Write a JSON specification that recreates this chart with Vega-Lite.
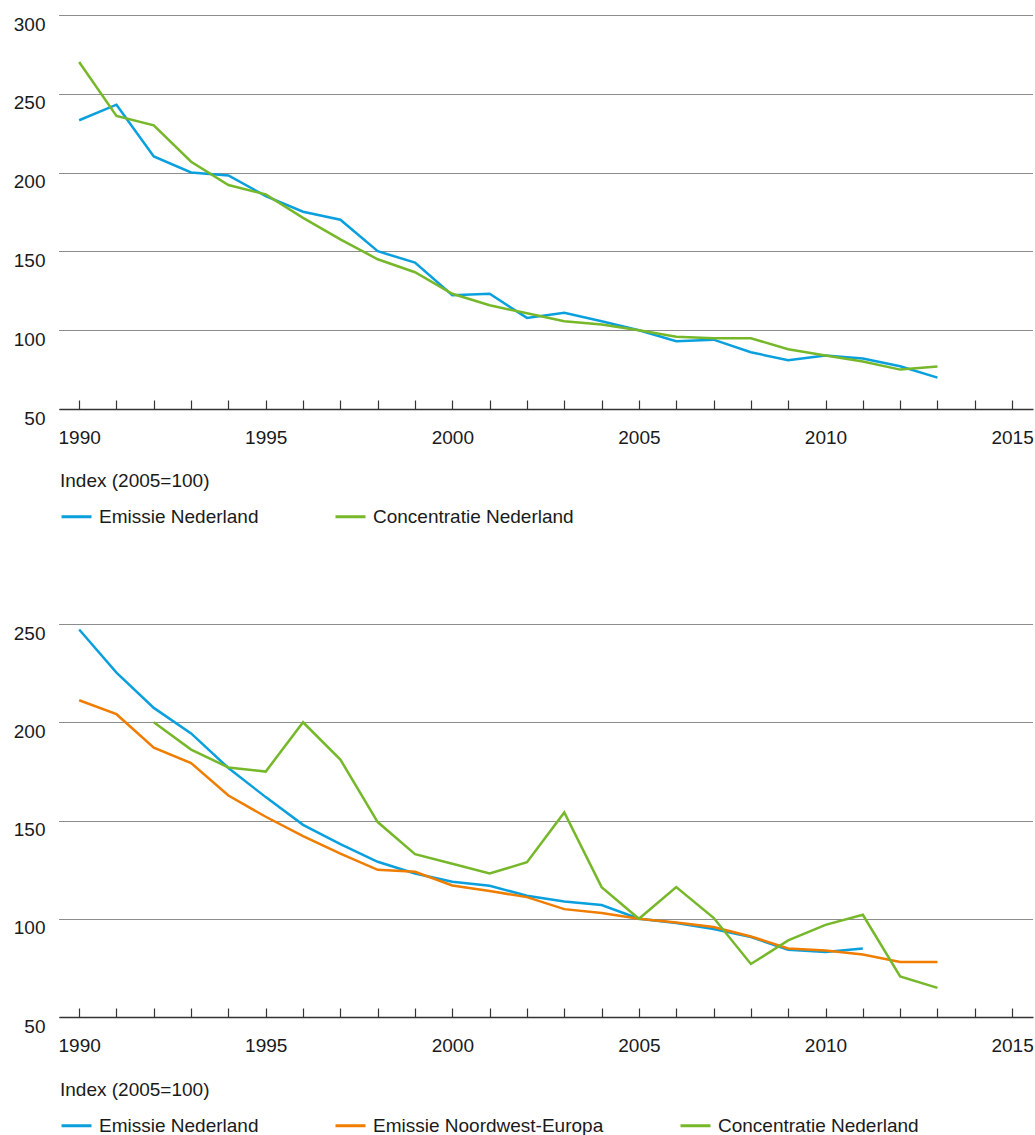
{
  "$schema": "https://vega.github.io/schema/vega-lite/v6.json",
  "padding": {"left": 13, "top": 15, "right": 2, "bottom": 0},
  "bounds": "flush",
  "spacing": 215,
  "background": "white",
  "config": {
    "font": "Liberation Sans",
    "view": {"stroke": null},
    "axis": {"labelFontSize": 19, "labelColor": "#1a1a1a", "labelFont": "Liberation Sans", "title": null},
    "legend": {
      "orient": "none", "legendX": 1, "legendY": 457,
      "direction": "horizontal",
      "titleFontSize": 19, "titleFontWeight": "normal", "titleColor": "#1a1a1a", "titleFont": "Liberation Sans",
      "titlePadding": 9, "titleLimit": 500,
      "labelFontSize": 19, "labelColor": "#1a1a1a", "labelFont": "Liberation Sans", "labelLimit": 500,
      "labelOffset": 6,
      "symbolType": "stroke", "symbolSize": 900, "symbolStrokeWidth": 3,
      "columnPadding": 70
    }
  },
  "resolve": {"scale": {"color": "independent"}, "legend": {"color": "independent"}},
  "vconcat": [
    {
      "width": 974,
      "height": 394,
      "data": {"values": [
        {"jaar": 1990, "reeks": "Emissie Nederland", "index": 233.2},
        {"jaar": 1991, "reeks": "Emissie Nederland", "index": 243.1},
        {"jaar": 1992, "reeks": "Emissie Nederland", "index": 210.3},
        {"jaar": 1993, "reeks": "Emissie Nederland", "index": 200.1},
        {"jaar": 1994, "reeks": "Emissie Nederland", "index": 198.2},
        {"jaar": 1995, "reeks": "Emissie Nederland", "index": 185.1},
        {"jaar": 1996, "reeks": "Emissie Nederland", "index": 175.2},
        {"jaar": 1997, "reeks": "Emissie Nederland", "index": 170.1},
        {"jaar": 1998, "reeks": "Emissie Nederland", "index": 150.1},
        {"jaar": 1999, "reeks": "Emissie Nederland", "index": 142.9},
        {"jaar": 2000, "reeks": "Emissie Nederland", "index": 122.2},
        {"jaar": 2001, "reeks": "Emissie Nederland", "index": 123.1},
        {"jaar": 2002, "reeks": "Emissie Nederland", "index": 107.8},
        {"jaar": 2003, "reeks": "Emissie Nederland", "index": 111.0},
        {"jaar": 2004, "reeks": "Emissie Nederland", "index": 105.7},
        {"jaar": 2005, "reeks": "Emissie Nederland", "index": 100.0},
        {"jaar": 2006, "reeks": "Emissie Nederland", "index": 93.0},
        {"jaar": 2007, "reeks": "Emissie Nederland", "index": 94.0},
        {"jaar": 2008, "reeks": "Emissie Nederland", "index": 86.0},
        {"jaar": 2009, "reeks": "Emissie Nederland", "index": 80.9},
        {"jaar": 2010, "reeks": "Emissie Nederland", "index": 83.9},
        {"jaar": 2011, "reeks": "Emissie Nederland", "index": 82.0},
        {"jaar": 2012, "reeks": "Emissie Nederland", "index": 77.1},
        {"jaar": 2013, "reeks": "Emissie Nederland", "index": 69.9},
        {"jaar": 1990, "reeks": "Concentratie Nederland", "index": 270.2},
        {"jaar": 1991, "reeks": "Concentratie Nederland", "index": 235.9},
        {"jaar": 1992, "reeks": "Concentratie Nederland", "index": 230.0},
        {"jaar": 1993, "reeks": "Concentratie Nederland", "index": 206.9},
        {"jaar": 1994, "reeks": "Concentratie Nederland", "index": 192.1},
        {"jaar": 1995, "reeks": "Concentratie Nederland", "index": 186.2},
        {"jaar": 1996, "reeks": "Concentratie Nederland", "index": 171.3},
        {"jaar": 1997, "reeks": "Concentratie Nederland", "index": 157.6},
        {"jaar": 1998, "reeks": "Concentratie Nederland", "index": 145.0},
        {"jaar": 1999, "reeks": "Concentratie Nederland", "index": 136.8},
        {"jaar": 2000, "reeks": "Concentratie Nederland", "index": 123.1},
        {"jaar": 2001, "reeks": "Concentratie Nederland", "index": 115.8},
        {"jaar": 2002, "reeks": "Concentratie Nederland", "index": 110.7},
        {"jaar": 2003, "reeks": "Concentratie Nederland", "index": 105.7},
        {"jaar": 2004, "reeks": "Concentratie Nederland", "index": 103.6},
        {"jaar": 2005, "reeks": "Concentratie Nederland", "index": 100.0},
        {"jaar": 2006, "reeks": "Concentratie Nederland", "index": 95.9},
        {"jaar": 2007, "reeks": "Concentratie Nederland", "index": 94.9},
        {"jaar": 2008, "reeks": "Concentratie Nederland", "index": 94.9},
        {"jaar": 2009, "reeks": "Concentratie Nederland", "index": 87.9},
        {"jaar": 2010, "reeks": "Concentratie Nederland", "index": 83.9},
        {"jaar": 2011, "reeks": "Concentratie Nederland", "index": 80.2},
        {"jaar": 2012, "reeks": "Concentratie Nederland", "index": 75.0},
        {"jaar": 2013, "reeks": "Concentratie Nederland", "index": 76.9}
      ]},
      "mark": {"type": "line", "strokeWidth": 2.5},
      "encoding": {
        "x": {
          "field": "jaar", "type": "quantitative",
          "scale": {"domain": [1989.46, 2015.56], "nice": false, "zero": false},
          "axis": {
            "values": [1990,1991,1992,1993,1994,1995,1996,1997,1998,1999,2000,2001,2002,2003,2004,2005,2006,2007,2008,2009,2010,2011,2012,2013,2014,2015],
            "labelExpr": "datum.value % 5 === 0 ? '' + datum.value : ''",
            "labelFlush": false, "labelOverlap": false,
            "grid": false, "domainColor": "#333333", "domainWidth": 1.5,
            "tickColor": "#333333", "tickWidth": 1.2, "tickSize": -9, "labelPadding": 28
          }
        },
        "y": {
          "field": "index", "type": "quantitative",
          "scale": {"domain": [50, 300], "nice": false, "zero": false},
          "axis": {
            "values": [50, 100, 150, 200, 250, 300],
            "labelBaseline": "top", "labelPadding": 14, "labelFlush": false, "labelOverlap": false,
            "domain": false, "ticks": false,
            "grid": true, "gridDash": [1, 1], "gridColor": "#1a1a1a", "gridWidth": 1
          }
        },
        "color": {
          "field": "reeks", "type": "nominal",
          "scale": {"domain": ["Emissie Nederland", "Concentratie Nederland"], "range": ["#0A9FDD", "#76B82A"]},
          "legend": {"title": "Index (2005=100)", "columns": 2}
        }
      }
    },
    {
      "width": 974,
      "height": 393,
      "data": {"values": [
        {"jaar": 1990, "reeks": "Emissie Nederland", "index": 247.2},
        {"jaar": 1991, "reeks": "Emissie Nederland", "index": 225.3},
        {"jaar": 1992, "reeks": "Emissie Nederland", "index": 207.3},
        {"jaar": 1993, "reeks": "Emissie Nederland", "index": 194.3},
        {"jaar": 1994, "reeks": "Emissie Nederland", "index": 176.7},
        {"jaar": 1995, "reeks": "Emissie Nederland", "index": 161.9},
        {"jaar": 1996, "reeks": "Emissie Nederland", "index": 147.8},
        {"jaar": 1997, "reeks": "Emissie Nederland", "index": 138.0},
        {"jaar": 1998, "reeks": "Emissie Nederland", "index": 129.0},
        {"jaar": 1999, "reeks": "Emissie Nederland", "index": 123.0},
        {"jaar": 2000, "reeks": "Emissie Nederland", "index": 118.8},
        {"jaar": 2001, "reeks": "Emissie Nederland", "index": 116.8},
        {"jaar": 2002, "reeks": "Emissie Nederland", "index": 111.7},
        {"jaar": 2003, "reeks": "Emissie Nederland", "index": 108.8},
        {"jaar": 2004, "reeks": "Emissie Nederland", "index": 107.0},
        {"jaar": 2005, "reeks": "Emissie Nederland", "index": 100.0},
        {"jaar": 2006, "reeks": "Emissie Nederland", "index": 97.8},
        {"jaar": 2007, "reeks": "Emissie Nederland", "index": 94.8},
        {"jaar": 2008, "reeks": "Emissie Nederland", "index": 90.7},
        {"jaar": 2009, "reeks": "Emissie Nederland", "index": 84.2},
        {"jaar": 2010, "reeks": "Emissie Nederland", "index": 83.1},
        {"jaar": 2011, "reeks": "Emissie Nederland", "index": 84.9},
        {"jaar": 1990, "reeks": "Emissie Noordwest-Europa", "index": 211.2},
        {"jaar": 1991, "reeks": "Emissie Noordwest-Europa", "index": 204.1},
        {"jaar": 1992, "reeks": "Emissie Noordwest-Europa", "index": 187.1},
        {"jaar": 1993, "reeks": "Emissie Noordwest-Europa", "index": 179.2},
        {"jaar": 1994, "reeks": "Emissie Noordwest-Europa", "index": 162.7},
        {"jaar": 1995, "reeks": "Emissie Noordwest-Europa", "index": 151.9},
        {"jaar": 1996, "reeks": "Emissie Noordwest-Europa", "index": 142.1},
        {"jaar": 1997, "reeks": "Emissie Noordwest-Europa", "index": 133.1},
        {"jaar": 1998, "reeks": "Emissie Noordwest-Europa", "index": 124.9},
        {"jaar": 1999, "reeks": "Emissie Noordwest-Europa", "index": 123.9},
        {"jaar": 2000, "reeks": "Emissie Noordwest-Europa", "index": 116.9},
        {"jaar": 2001, "reeks": "Emissie Noordwest-Europa", "index": 114.1},
        {"jaar": 2002, "reeks": "Emissie Noordwest-Europa", "index": 111.0},
        {"jaar": 2003, "reeks": "Emissie Noordwest-Europa", "index": 104.9},
        {"jaar": 2004, "reeks": "Emissie Noordwest-Europa", "index": 102.9},
        {"jaar": 2005, "reeks": "Emissie Noordwest-Europa", "index": 100.0},
        {"jaar": 2006, "reeks": "Emissie Noordwest-Europa", "index": 98.1},
        {"jaar": 2007, "reeks": "Emissie Noordwest-Europa", "index": 95.8},
        {"jaar": 2008, "reeks": "Emissie Noordwest-Europa", "index": 91.0},
        {"jaar": 2009, "reeks": "Emissie Noordwest-Europa", "index": 84.9},
        {"jaar": 2010, "reeks": "Emissie Noordwest-Europa", "index": 83.9},
        {"jaar": 2011, "reeks": "Emissie Noordwest-Europa", "index": 81.8},
        {"jaar": 2012, "reeks": "Emissie Noordwest-Europa", "index": 78.0},
        {"jaar": 2013, "reeks": "Emissie Noordwest-Europa", "index": 78.0},
        {"jaar": 1992, "reeks": "Concentratie Nederland", "index": 200.0},
        {"jaar": 1993, "reeks": "Concentratie Nederland", "index": 186.1},
        {"jaar": 1994, "reeks": "Concentratie Nederland", "index": 177.0},
        {"jaar": 1995, "reeks": "Concentratie Nederland", "index": 174.9},
        {"jaar": 1996, "reeks": "Concentratie Nederland", "index": 200.0},
        {"jaar": 1997, "reeks": "Concentratie Nederland", "index": 181.0},
        {"jaar": 1998, "reeks": "Concentratie Nederland", "index": 149.2},
        {"jaar": 1999, "reeks": "Concentratie Nederland", "index": 132.9},
        {"jaar": 2000, "reeks": "Concentratie Nederland", "index": 128.0},
        {"jaar": 2001, "reeks": "Concentratie Nederland", "index": 123.0},
        {"jaar": 2002, "reeks": "Concentratie Nederland", "index": 128.8},
        {"jaar": 2003, "reeks": "Concentratie Nederland", "index": 154.1},
        {"jaar": 2004, "reeks": "Concentratie Nederland", "index": 116.1},
        {"jaar": 2005, "reeks": "Concentratie Nederland", "index": 100.0},
        {"jaar": 2006, "reeks": "Concentratie Nederland", "index": 116.1},
        {"jaar": 2007, "reeks": "Concentratie Nederland", "index": 100.5},
        {"jaar": 2008, "reeks": "Concentratie Nederland", "index": 77.0},
        {"jaar": 2009, "reeks": "Concentratie Nederland", "index": 89.0},
        {"jaar": 2010, "reeks": "Concentratie Nederland", "index": 96.9},
        {"jaar": 2011, "reeks": "Concentratie Nederland", "index": 102.0},
        {"jaar": 2012, "reeks": "Concentratie Nederland", "index": 70.7},
        {"jaar": 2013, "reeks": "Concentratie Nederland", "index": 64.8}
      ]},
      "mark": {"type": "line", "strokeWidth": 2.5},
      "encoding": {
        "x": {
          "field": "jaar", "type": "quantitative",
          "scale": {"domain": [1989.46, 2015.56], "nice": false, "zero": false},
          "axis": {
            "values": [1990,1991,1992,1993,1994,1995,1996,1997,1998,1999,2000,2001,2002,2003,2004,2005,2006,2007,2008,2009,2010,2011,2012,2013,2014,2015],
            "labelExpr": "datum.value % 5 === 0 ? '' + datum.value : ''",
            "labelFlush": false, "labelOverlap": false,
            "grid": false, "domainColor": "#333333", "domainWidth": 1.5,
            "tickColor": "#333333", "tickWidth": 1.2, "tickSize": -9, "labelPadding": 28
          }
        },
        "y": {
          "field": "index", "type": "quantitative",
          "scale": {"domain": [50, 250], "nice": false, "zero": false},
          "axis": {
            "values": [50, 100, 150, 200, 250],
            "labelBaseline": "top", "labelPadding": 14, "labelFlush": false, "labelOverlap": false,
            "domain": false, "ticks": false,
            "grid": true, "gridDash": [1, 1], "gridColor": "#1a1a1a", "gridWidth": 1
          }
        },
        "color": {
          "field": "reeks", "type": "nominal",
          "scale": {"domain": ["Emissie Nederland", "Emissie Noordwest-Europa", "Concentratie Nederland"], "range": ["#0A9FDD", "#EF7D00", "#76B82A"]},
          "legend": {"title": "Index (2005=100)", "columns": 3}
        }
      }
    }
  ]
}
